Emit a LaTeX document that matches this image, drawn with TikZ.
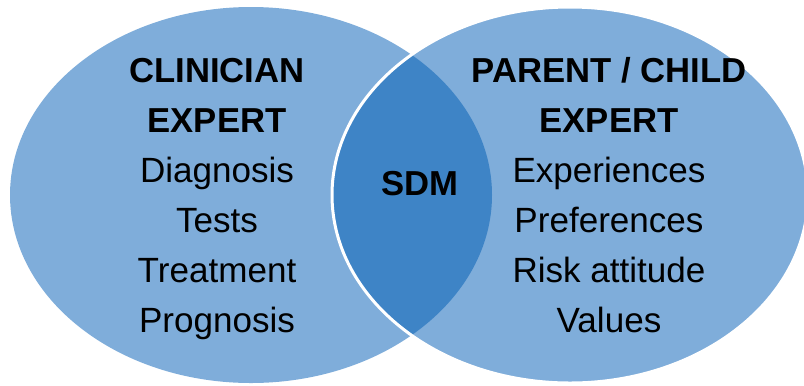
\documentclass[tikz,border=0pt]{standalone}
\usepackage{fontspec}
\setmainfont{Liberation Sans}
\definecolor{lightblue}{RGB}{127,173,218}
\definecolor{darkblue}{RGB}{62,132,198}
\begin{document}
\begin{tikzpicture}[x=1bp,y=-1bp,
  head/.style={anchor=base,inner sep=0pt,font=\fontsize{34.8}{40}\selectfont\bfseries},
  item/.style={anchor=base,inner sep=0pt,font=\fontsize{35.2}{40}\selectfont}]
\useasboundingbox (0,0) rectangle (804,385);
\begin{scope}
\clip (0,0) rectangle (804,385);
\fill[lightblue] (251,195) ellipse [x radius=241, y radius=188];
\fill[lightblue] (570,195) ellipse [x radius=238, y radius=188];
\begin{scope}
\clip (251,195) ellipse [x radius=241, y radius=188];
\fill[darkblue] (570,195) ellipse [x radius=238, y radius=188];
\end{scope}
\draw[white,line width=3bp] (570,195) ellipse [x radius=238, y radius=188];
\end{scope}
\node[head] (l1) at (217,82) {CLINICIAN};
\node[head] (l2) at (217,132) {EXPERT};
\node[item] (l3) at (217,182) {Diagnosis};
\node[item] (l4) at (217,232) {Tests};
\node[item] (l5) at (217,282) {Treatment};
\node[item] (l6) at (217,332) {Prognosis};
\node[head] (sdm) at (420,195) {SDM};
\node[head] (r1) at (609,82) {PARENT / CHILD};
\node[head] (r2) at (609,132) {EXPERT};
\node[item] (r3) at (609,182) {Experiences};
\node[item] (r4) at (609,232) {Preferences};
\node[item] (r5) at (609,282) {Risk attitude};
\node[item] (r6) at (609,332) {Values};
\end{tikzpicture}
\end{document}
